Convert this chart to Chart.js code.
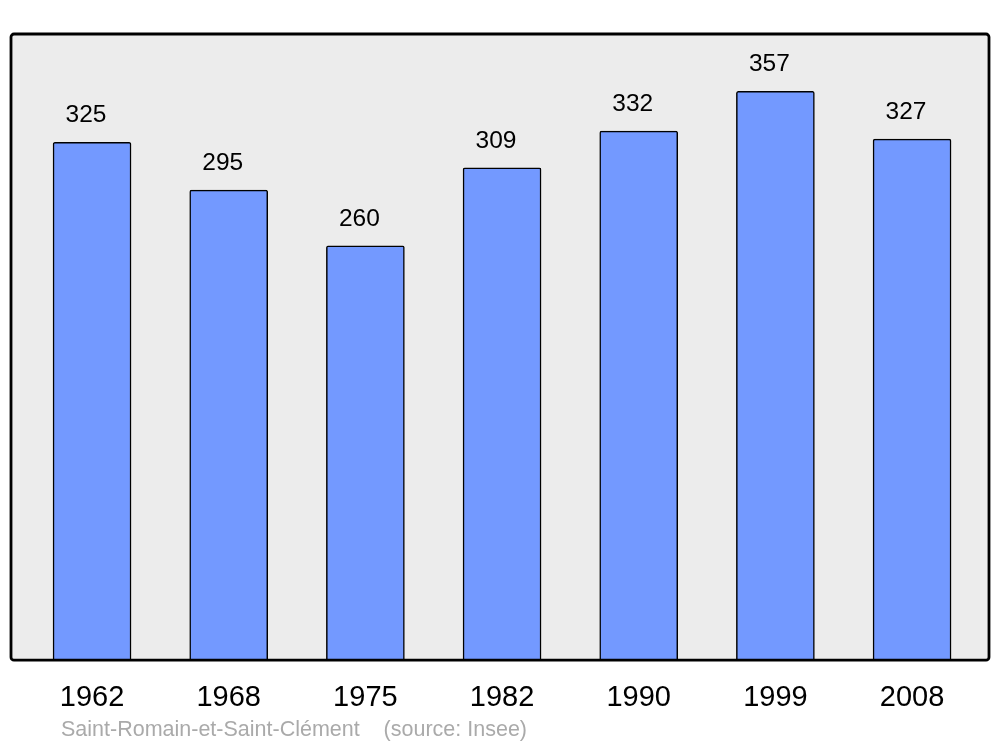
<!DOCTYPE html>
<html>
<head>
<meta charset="utf-8">
<script src="https://cdn.jsdelivr.net/npm/chart.js@4/dist/chart.umd.min.js"></script>
<style>
  html, body { margin: 0; padding: 0; background: #fff; }
  #wrap { width: 1000px; height: 747px; }
</style>
</head>
<body>
<div id="wrap"><canvas id="barChart" width="1000" height="747"></canvas></div>
<script>
// données
var years = ['1962', '1968', '1975', '1982', '1990', '1999', '2008'];
var population = [325, 295, 260, 309, 332, 357, 327];
var sourceText = 'Saint-Romain-et-Saint-Clément    (source: Insee)';

var FONT = '"Liberation Sans", Arial, sans-serif';

// fond gris + cadre
var framePlugin = {
    id: 'frame',
    beforeDraw: function (chart) {
        var ctx = chart.ctx, a = chart.chartArea;
        ctx.save();
        ctx.beginPath();
        ctx.roundRect(a.left, a.top, a.right - a.left, a.bottom - a.top, 3);
        ctx.fillStyle = '#ececec';
        ctx.fill();
        ctx.restore();
    },
    afterDatasetsDraw: function (chart) {
        var ctx = chart.ctx, a = chart.chartArea;
        ctx.save();
        ctx.beginPath();
        ctx.roundRect(a.left, a.top, a.right - a.left, a.bottom - a.top, 3);
        ctx.lineWidth = 2.8;
        ctx.strokeStyle = '#000';
        ctx.stroke();

        // valeurs au-dessus des barres
        var meta = chart.getDatasetMeta(0);
        ctx.fillStyle = '#000';
        ctx.font = '24.5px ' + FONT;
        ctx.textAlign = 'center';
        ctx.textBaseline = 'middle';
        meta.data.forEach(function (bar, i) {
            ctx.fillText(String(population[i]), bar.x - 6, bar.y - 27);
        });

        // source
        ctx.fillStyle = '#aaaaaa';
        ctx.font = '21.5px ' + FONT;
        ctx.textAlign = 'left';
        ctx.fillText(sourceText, 61, 730);
        ctx.restore();
    }
};

var ctx = document.getElementById('barChart');
var myBarChart = new Chart(ctx, {
    type: 'bar',
    data: {
        datasets: [{
            data: population.map(function (v, i) { return { x: i, y: v }; }),
            backgroundColor: '#7399ff',
            borderColor: '#000',
            borderWidth: 1.5,
            borderRadius: 2,
            borderSkipped: 'bottom',
            barThickness: 78
        }]
    },
    options: {
        responsive: false,
        animation: false,
        layout: { padding: { left: 11, right: 11, top: 34, bottom: 12 } },
        plugins: {
            legend: { display: false },
            tooltip: { enabled: false }
        },
        scales: {
            x: {
                type: 'linear',
                offset: false,
                min: -0.593,
                max: 6.563,
                grid: { display: false, drawTicks: false },
                border: { display: false },
                afterBuildTicks: function (scale) {
                    scale.ticks = years.map(function (y, i) { return { value: i }; });
                },
                ticks: {
                    padding: 20,
                    color: '#000',
                    font: { family: FONT, size: 29 },
                    maxRotation: 0,
                    autoSkip: false,
                    callback: function (v) { return years[v]; }
                }
            },
            y: {
                display: false,
                min: 0,
                max: 393
            }
        }
    },
    plugins: [framePlugin]
});
</script>
</body>
</html>
